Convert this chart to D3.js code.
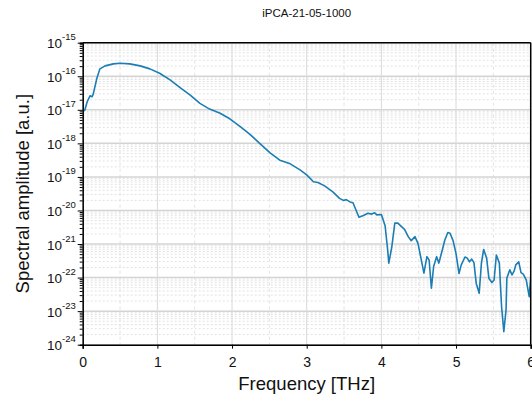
<!DOCTYPE html>
<html>
<head>
<meta charset="utf-8">
<script src="https://cdn.jsdelivr.net/npm/d3@7"></script>
<style>
  body { margin: 0; background: #fff; }
  text { font-family: "Liberation Sans", Arial, sans-serif; }
</style>
</head>
<body>
<div id="chart"></div>
<script>
const chartTitle = "iPCA-21-05-1000";

// frequency [THz]
const freq = [0.00, 0.03, 0.06, 0.10, 0.125, 0.14, 0.19, 0.23, 0.30, 0.41, 0.50, 0.63, 0.77, 0.90,
  1.03, 1.17, 1.30, 1.44, 1.57, 1.70, 1.84, 1.97, 2.11, 2.24, 2.37, 2.51, 2.64, 2.78, 2.91,
  3.00, 3.09, 3.15, 3.24, 3.35, 3.44, 3.49, 3.53, 3.58, 3.62, 3.70, 3.76, 3.82, 3.87, 3.91, 3.94,
  4.00, 4.05, 4.08, 4.10, 4.14, 4.18, 4.22, 4.27, 4.31, 4.36, 4.40, 4.45, 4.49, 4.54, 4.57, 4.61,
  4.64, 4.67, 4.70, 4.74, 4.77, 4.81, 4.85, 4.89, 4.92, 4.96, 5.00, 5.04, 5.07, 5.12, 5.15, 5.18,
  5.21, 5.24, 5.27, 5.31, 5.34, 5.37, 5.41, 5.44, 5.48, 5.51, 5.54, 5.58, 5.61, 5.64, 5.67, 5.68,
  5.72, 5.75, 5.78, 5.80, 5.84, 5.87, 5.90, 5.94, 5.98, 6.00];

// spectral amplitude [a.u.]
const amplitude = [8.9e-18, 1.0e-17, 1.74e-17, 2.63e-17, 2.45e-17, 2.88e-17, 8.7e-17, 1.66e-16, 2.04e-16, 2.34e-16, 2.45e-16, 2.34e-16, 2.04e-16, 1.66e-16,
  1.23e-16, 7.76e-17, 4.68e-17, 2.75e-17, 1.55e-17, 1.05e-17, 7.9e-18, 5.4e-18, 3.16e-18, 1.86e-18, 1.0e-18, 5.2e-19, 3.16e-19, 2.45e-19, 1.62e-19,
  1.15e-19, 7.2e-20, 6.8e-20, 5.4e-20, 3.6e-20, 2.3e-20, 2.0e-20, 2.1e-20, 1.8e-20, 1.7e-20, 6.3e-21, 7.1e-21, 8.3e-21, 7.8e-21, 8.5e-21, 7.4e-21,
  7.6e-21, 3.5e-21, 8.3e-22, 2.7e-22, 8.3e-22, 4.2e-21, 4.2e-21, 3.3e-21, 2.75e-21, 1.66e-21, 1.26e-21, 1.66e-21, 1.05e-21, 2.95e-22, 1.35e-22, 4.2e-22,
  3.3e-22, 4.8e-23, 2.14e-22, 4.2e-22, 2.7e-22, 5.9e-22, 1.32e-21, 2.2e-21, 2.1e-21, 1.26e-21, 5.2e-22, 1.32e-22, 2.4e-22, 4.1e-22, 3.8e-22, 2.95e-22,
  3.55e-22, 2.8e-22, 6.8e-23, 3.4e-23, 2.7e-22, 6.9e-22, 3.8e-22, 9.5e-23, 7.1e-23, 8.5e-23, 4.7e-22, 2.7e-22, 1.35e-23, 2.45e-24, 1.1e-23, 9.5e-23,
  1.7e-22, 1.2e-22, 1.62e-22, 2.4e-22, 2.95e-22, 1.41e-22, 1.26e-22, 8.5e-23, 2.7e-23, 1.0e-22];

const xTicks = [0, 1, 2, 3, 4, 5, 6];
const xMinorGrid = [0.5, 1.5, 2.5, 3.5, 4.5, 5.5];
const yExponents = [-15, -16, -17, -18, -19, -20, -21, -22, -23, -24];

const W = 532, H = 395;
const margin = {top: 42.7, right: 1.3, bottom: 50.3, left: 82.7};
const width = W - margin.left - margin.right;
const height = H - margin.top - margin.bottom;

const svg = d3.select("#chart").append("svg")
  .attr("width", W).attr("height", H);

const g = svg.append("g")
  .attr("transform", `translate(${margin.left},${margin.top})`);

const x = d3.scaleLinear().domain([0, 6]).range([0, width]);
const y = d3.scaleLog().domain([1e-24, 1e-15]).range([height, 0]);

// minor horizontal grid (2..9 x decade)
const minorY = [];
yExponents.slice(1).forEach(e => {
  for (let k = 2; k <= 9; k++) minorY.push(k * Math.pow(10, e));
});
g.selectAll(".ygrid-minor").data(minorY).enter().append("line")
  .attr("x1", 0).attr("x2", width)
  .attr("y1", d => y(d)).attr("y2", d => y(d))
  .attr("stroke", "#e2e2e2").attr("stroke-width", 1)
  .attr("stroke-dasharray", "2,2");

// minor vertical grid
g.selectAll(".xgrid-minor").data(xMinorGrid).enter().append("line")
  .attr("x1", d => x(d)).attr("x2", d => x(d))
  .attr("y1", 0).attr("y2", height)
  .attr("stroke", "#e2e2e2").attr("stroke-width", 1)
  .attr("stroke-dasharray", "3,3");

// major grid
g.selectAll(".ygrid").data(yExponents.map(e => Math.pow(10, e))).enter().append("line")
  .attr("x1", 0).attr("x2", width)
  .attr("y1", d => y(d)).attr("y2", d => y(d))
  .attr("stroke", "#d4d4d4").attr("stroke-width", 1.5);

g.selectAll(".xgrid").data(xTicks).enter().append("line")
  .attr("x1", d => x(d)).attr("x2", d => x(d))
  .attr("y1", 0).attr("y2", height)
  .attr("stroke", "#d9d9d9").attr("stroke-width", 1);

// data line
svg.append("clipPath").attr("id", "clip").append("rect")
  .attr("width", width).attr("height", height);

const pts = freq.map((f, i) => ({f: f, a: amplitude[i]}));
g.append("path")
  .datum(pts)
  .attr("clip-path", "url(#clip)")
  .attr("fill", "none")
  .attr("stroke", "#1a7db4")
  .attr("stroke-width", 1.6)
  .attr("stroke-linejoin", "round")
  .attr("d", d3.line().x(d => x(d.f)).y(d => y(d.a)));

// x axis
const xAxis = g.append("g")
  .attr("transform", `translate(0,${height})`)
  .call(d3.axisBottom(x).tickValues(xTicks).tickFormat(d3.format("d")).tickSize(4).tickPadding(8));
xAxis.select(".domain").attr("stroke-width", 1.5);
xAxis.selectAll("text").attr("font-size", 14).attr("fill", "#111")
  .style("font-family", "Liberation Sans, Arial, sans-serif");

// y axis with minor ticks
const yAxis = g.append("g")
  .call(d3.axisLeft(y).tickValues(minorY).tickSize(3).tickFormat(""));
yAxis.select(".domain").attr("stroke-width", 1.5);
const yMajor = g.append("g")
  .call(d3.axisLeft(y).tickValues(yExponents.map(e => Math.pow(10, e))).tickSize(5).tickFormat(""));
yMajor.select(".domain").remove();

// y tick labels: 10^n
g.selectAll(".ylab").data(yExponents).enter().append("text")
  .attr("x", -7)
  .attr("y", e => y(Math.pow(10, e)) + 5.5)
  .attr("text-anchor", "end")
  .attr("fill", "#111")
  .each(function(e) {
    const t = d3.select(this);
    t.append("tspan").attr("font-size", 13.5).text("10");
    t.append("tspan").attr("font-size", 9.5).attr("dy", -8).text(String(e).replace("\u2212", "-"));
  });

// frame (top and right)
g.append("line").attr("x1", 0).attr("x2", width).attr("y1", 0).attr("y2", 0)
  .attr("stroke", "#000").attr("stroke-width", 1.5);
g.append("line").attr("x1", width).attr("x2", width).attr("y1", 0).attr("y2", height)
  .attr("stroke", "#000").attr("stroke-width", 1.5);

// title and axis labels
svg.append("text")
  .attr("x", margin.left + width / 2).attr("y", 17)
  .attr("text-anchor", "middle").attr("font-size", 11.5).attr("fill", "#111")
  .text(chartTitle);

svg.append("text")
  .attr("x", margin.left + width / 2).attr("y", 390)
  .attr("text-anchor", "middle").attr("font-size", 18.5).attr("fill", "#111")
  .text("Frequency [THz]");

svg.append("text")
  .attr("transform", `translate(29,${margin.top + height / 2}) rotate(-90)`)
  .attr("text-anchor", "middle").attr("font-size", 18.5).attr("fill", "#111")
  .text("Spectral amplitude [a.u.]");
</script>
</body>
</html>
